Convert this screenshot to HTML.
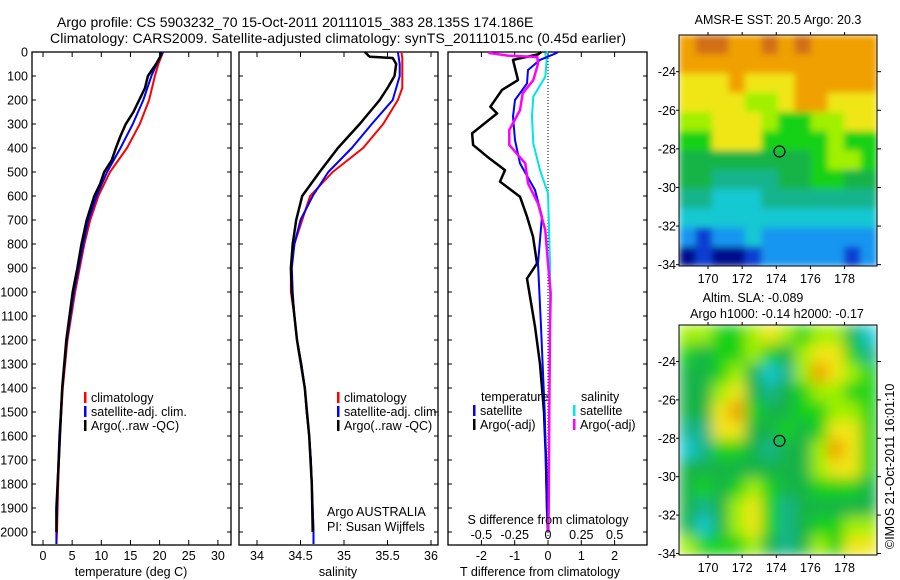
<!DOCTYPE html>
<html><head><meta charset="utf-8"><style>
body{margin:0;background:#fff}
svg{display:block;font-family:"Liberation Sans",Arial,sans-serif}
text{fill:#000}
</style></head><body>
<svg id="c" width="900" height="580" viewBox="0 0 900 580" xmlns="http://www.w3.org/2000/svg">
<defs>
<filter id="blur2" x="0" y="0" width="1" height="1"><feGaussianBlur stdDeviation="7"/></filter>
<filter id="blur1" x="0" y="0" width="1" height="1"><feGaussianBlur stdDeviation="3.5"/></filter>
<clipPath id="cm1"><rect x="679" y="35" width="198" height="231"/></clipPath>
<clipPath id="cm2"><rect x="679" y="325" width="198" height="230"/></clipPath>
</defs>
<rect width="900" height="580" fill="#fff"/>
<text x="57" y="27" font-size="14">Argo profile: CS 5903232_70 15-Oct-2011 20111015_383 28.135S 174.186E</text>
<text x="50" y="43" font-size="14" textLength="576">Climatology: CARS2009. Satellite-adjusted climatology: synTS_20111015.nc (0.45d earlier)</text>
<g id="g"></g>
</svg>
<script>
// ---------- profile data ----------
const depthT = [0,50,100,200,300,400,500,600,700,800,900,1000,1200,1400,1600,1800,2000,2050];
const tempClim = [20.6,19.8,19.2,18.2,16.6,14.4,11.5,9.5,8.1,7.1,6.3,5.5,4.2,3.4,2.9,2.6,2.4,2.3];
const tempSat = [20.6,19.5,18.6,17.2,15.4,13.3,11.0,9.2,7.8,6.9,6.1,5.3,4.1,3.3,2.8,2.5,2.3,2.3];
const depthTArgo = [0,20,50,100,150,200,250,300,350,400,450,500,550,600,700,800,900,1000,1200,1400,1600,1800,1900,2000];
const tempArgo = [20.3,20.1,19.4,18.0,17.5,16.5,15.5,14.2,13.3,12.5,11.8,10.5,9.8,8.8,7.5,6.6,5.9,5.1,4.0,3.3,2.9,2.5,2.3,2.3];

const depthS = [0,25,50,100,150,200,300,400,500,600,700,800,900,1000,1100,1200,1300,1400,1500,1600,1700,1800,1900,2000,2050];
const salClim = [35.66,35.67,35.67,35.67,35.67,35.62,35.45,35.22,34.87,34.61,34.52,34.43,34.39,34.39,34.43,34.46,34.51,34.55,34.57,34.60,34.62,34.63,34.64,34.65,34.65];
const salSat = [35.62,35.63,35.64,35.64,35.60,35.56,35.32,35.09,34.82,34.64,34.50,34.43,34.40,34.41,34.43,34.46,34.51,34.55,34.57,34.60,34.62,34.63,34.64,34.65,34.65];
const depthSArgo = [0,15,20,25,50,100,150,200,300,400,500,600,700,800,900,1000,1200,1400,1600,1800,2000];
const salArgo = [35.24,35.28,35.30,35.56,35.60,35.58,35.50,35.41,35.18,34.93,34.72,34.52,34.45,34.41,34.39,34.40,34.46,34.55,34.60,34.63,34.64];

const argoTdiffDepth = [0,10,33,117,158,228,256,339,387,436,492,540,603,686,769,881,944,1019,1144,1300,1500,1700,1900,2000];
const argoTdiff = [-0.2,-0.3,-1.05,-0.9,-1.38,-1.73,-1.53,-2.28,-2.25,-1.83,-1.29,-1.44,-0.84,-0.63,-0.45,-0.33,-0.63,-0.54,-0.39,-0.24,-0.12,-0.06,-0.03,0];
const satTdiffDepth = [0,7,33,75,131,200,269,367,464,575,686,881,1144,1500,1800,2000];
const satTdiff = [0.3,0.21,-0.24,-0.6,-0.63,-0.99,-1.05,-0.99,-0.84,-0.39,-0.18,-0.3,-0.21,-0.1,-0.05,0];
const argoSdiffDepth = [0,4,15,21,49,117,172,242,325,387,464,547,631,742,881,1006,1144,1500,1900,2000];
const argoSdiff = [-0.44,-0.44,-0.3,-0.08,-0.075,-0.11,-0.19,-0.21,-0.29,-0.29,-0.17,-0.15,-0.075,-0.02,0,0.02,0.015,0.01,0.005,0];
const satSdiffDepth = [0,7,33,103,186,269,381,492,589,881,1144,1500,2000];
const satSdiff = [0.0,-0.02,-0.01,-0.02,-0.11,-0.12,-0.11,-0.06,0,0.015,0.015,0.01,0.005];

const depthTicks = [0,100,200,300,400,500,600,700,800,900,1000,1100,1200,1300,1400,1500,1600,1700,1800,1900,2000];
const tempTicks = [0,5,10,15,20,25,30];
const salTicks = [34,34.5,35,35.5,36];
const tdTicks = [-2,-1,0,1,2];
const sdTicks = [-0.5,-0.25,0,0.25,0.5];
const sdTickLabels = ["-0.5","-0.25","0","0.25","0.5"];
const lonTicks = [170,172,174,176,178];
const latTicks = [-24,-26,-28,-30,-32,-34];

// ---------- map data (12 rows from -22.1 down, 12 cols across) ----------
const sstGrid = [
[9,10,10,9,9,10,9,10,9,9,9,9],
[9,9,9,9,9,9,9,9,9,9,9,9],
[8,8,8,9,8,8,8,9,9,9,9,9],
[8,8,8,8,7,7,8,9,9,8,8,8],
[7,7,8,8,8,7,6,6,7,7,8,8],
[6,6,8,8,8,6,6,6,6,7,6,6],
[5,5,5,5,5,5,5,5,6,7,7,6],
[5,5,4,4,4,4,5,5,6,6,5,5],
[4,4,3,3,3,4,4,4,4,4,4,4],
[3,3,3,3,3,3,3,3,3,3,3,3],
[2,1,2,2,3,2,2,2,2,2,2,2],
[0,1,0,0,1,2,2,2,2,2,1,2]];
const slaGrid = [
[7,7,6,6,7,8,7,6,7,7,5,3],
[6,5,6,6,7,6,5,7,8,8,6,4],
[5,5,6,7,5,3,4,7,9,8,7,6],
[5,5,7,8,5,4,5,6,7,7,6,6],
[5,5,8,9,6,5,5,6,6,7,7,6],
[4,4,8,8,5,5,6,5,6,8,8,6],
[3,4,6,6,5,4,5,5,7,9,8,6],
[5,5,5,5,5,5,5,5,7,8,8,6],
[5,6,5,6,7,6,5,5,6,6,6,5],
[5,4,5,7,8,6,4,5,5,5,5,5],
[5,3,5,7,8,6,4,5,6,6,7,7],
[7,6,6,6,7,5,4,5,7,6,8,8]];
const argoLon = 174.186, argoLat = -28.135;

const cmap = ["#000a8c","#0a3cd2","#1496f0","#14c8d2","#14b48c","#14b446","#14d214","#a0f000","#f0e614","#f0a000","#d26e14"];

const NS = "http://www.w3.org/2000/svg";
const G = document.getElementById('g');
function mk(tag, attrs, parent, txt){
  const e = document.createElementNS(NS, tag);
  for (const k in attrs) e.setAttribute(k, attrs[k]);
  if (txt !== undefined) e.textContent = txt;
  (parent||G).appendChild(e); return e;
}
const yD = d => 52 + d*0.24;
const xTemp = t => 43 + t*5.83;
const xSal = s => 257 + (s-34)*87;
const xTd = t => 548 + t*33.3;
const xSd = s => 548 + s*133.3;
const xLon = lo => 679 + (lo-168.3)*17.07;
const yLat1 = la => 35 + (-22.1-la)*19.3;
const yLat2 = la => 325 + (-22.1-la)*19.2;

function panel(x0, name){
  const r = mk('rect',{x:x0,y:52,width:199,height:493,fill:'none',stroke:'#000','stroke-width':1.3});
  
  
  depthTicks.forEach(d=>{
    const y=yD(d);
    mk('line',{x1:x0,y1:y,x2:x0+4,y2:y,stroke:'#000'});
    mk('line',{x1:x0+199-4,y1:y,x2:x0+199,y2:y,stroke:'#000'});
  });
}
function xticks(vals, fx){
  vals.forEach(v=>{ const x=fx(v);
    mk('line',{x1:x,y1:52,x2:x,y2:57,stroke:'#000'});
    mk('line',{x1:x,y1:540,x2:x,y2:545,stroke:'#000'});
  });
}
function line(dep, vals, fx, color, w, name){
  const pts = dep.map((d,i)=>fx(vals[i]).toFixed(1)+','+yD(d).toFixed(1)).join(' ');
  const p = mk('polyline',{points:pts,fill:'none',stroke:color,'stroke-width':w,'stroke-linejoin':'round'});
  
  
}
function txt(x,y,s,opts,name){
  const a = Object.assign({x:x,y:y,'font-size':12.5},opts||{});
  const t = mk('text',a,G,s);
  
  
  return t;
}

// Panel 1
panel(32,'temperature-panel');
xticks(tempTicks, xTemp);
depthTicks.forEach(d=>{ txt(28, yD(d)+4.5, String(d), {'text-anchor':'end'}, 'depth-tick-label'); });
tempTicks.forEach(t=>{ txt(xTemp(t), 560, String(t), {'text-anchor':'middle'}, 'temperature-tick-label'); });
txt(131, 576, 'temperature (deg C)', {'text-anchor':'middle'}, 'temperature-axis-title');
line(depthT, tempClim, xTemp, '#ff0000', 2, 'temperature-climatology-line');
line(depthT, tempSat, xTemp, '#0000ff', 2, 'temperature-satellite-line');
line(depthTArgo, tempArgo, xTemp, '#000', 2.5, 'temperature-argo-line');

// Panel 2
panel(239,'salinity-panel');
xticks(salTicks, xSal);
salTicks.forEach(s=>{ txt(xSal(s), 560, String(s), {'text-anchor':'middle'}, 'salinity-tick-label'); });
txt(338, 576, 'salinity', {'text-anchor':'middle'}, 'salinity-axis-title');
line(depthS, salClim, xSal, '#ff0000', 2, 'salinity-climatology-line');
line(depthS, salSat, xSal, '#0000ff', 2, 'salinity-satellite-line');
line(depthSArgo, salArgo, xSal, '#000', 2.5, 'salinity-argo-line');
txt(327, 516, 'Argo AUSTRALIA', {}, 'institution-label');
txt(327, 531, 'PI: Susan Wijffels', {}, 'pi-label');

function legend(x, y, color, label, name){
  const b = mk('rect',{x:x,y:y-10,width:2.5,height:11,fill:color});
  
  
  txt(x+7, y, label, {}, name+'-label');
}
[[32+52,'climatology-legend'],[239+98,'salinity-climatology-legend']].forEach(([x,n])=>{
  legend(x, 402, '#ff0000', 'climatology', n);
  legend(x, 416, '#0000ff', 'satellite-adj. clim.', n+'-sat');
  legend(x, 430, '#000', 'Argo(..raw -QC)', n+'-argo');
});

// Panel 3
panel(448,'difference-panel');
xticks(tdTicks, xTd);
const dz = mk('line',{x1:548,y1:52,x2:548,y2:545,stroke:'#000','stroke-dasharray':'1,2'});


line(satSdiffDepth, satSdiff, xSd, '#00e5e5', 2, 'salinity-satellite-diff-line');
line(argoTdiffDepth, argoTdiff, xTd, '#000', 2.5, 'temperature-argo-diff-line');
line(satTdiffDepth, satTdiff, xTd, '#0000ff', 2, 'temperature-satellite-diff-line');
line(argoSdiffDepth, argoSdiff, xSd, '#ff00ff', 2.5, 'salinity-argo-diff-line');
tdTicks.forEach(t=>{ txt(xTd(t), 560, String(t), {'text-anchor':'middle'}, 't-diff-tick-label'); });
sdTicks.forEach((s,i)=>{ txt(xSd(s), 539, sdTickLabels[i], {'text-anchor':'middle'}, 's-diff-tick-label'); });
txt(548, 524, 'S difference from climatology', {'text-anchor':'middle'}, 's-diff-axis-title');
txt(540, 576, 'T difference from climatology', {'text-anchor':'middle'}, 't-diff-axis-title');
txt(481, 401, 'temperature', {}, 'temperature-legend-heading');
legend(473, 415, '#0000ff', 'satellite', 'temp-satellite-legend');
legend(473, 429, '#000', 'Argo(-adj)', 'temp-argo-legend');
txt(581, 401, 'salinity', {}, 'salinity-legend-heading');
legend(573, 415, '#00e5e5', 'satellite', 'sal-satellite-legend');
legend(573, 429, '#ff00ff', 'Argo(-adj)', 'sal-argo-legend');

// Maps
function map(grid, y0, h, yLat, clip, filt, name){
  const g = mk('g',{'clip-path':'url(#'+clip+')'});
  
  
  const inner = mk('g',{filter:'url(#'+filt+')'}, g);
  const cw = 198/grid[0].length, ch = h/grid.length;
  grid.forEach((row,r)=>row.forEach((v,c)=>{
    const cell = mk('rect',{x:(679+c*cw).toFixed(2),y:(y0+r*ch).toFixed(2),width:(cw+0.6).toFixed(2),height:(ch+0.6).toFixed(2),fill:cmap[v]}, inner);
    
    
  }));
  const fr = mk('rect',{x:679,y:y0,width:198,height:h,fill:'none',stroke:'#000','stroke-width':1});
  
  
  const ci = mk('circle',{cx:xLon(argoLon),cy:yLat(argoLat),r:5.5,fill:'none',stroke:'#000','stroke-width':1.2});
  
  
  lonTicks.forEach(lo=>{ const x=xLon(lo);
    mk('line',{x1:x,y1:y0-3,x2:x,y2:y0,stroke:'#000'});
    mk('line',{x1:x,y1:y0+h,x2:x,y2:y0+h+3,stroke:'#000'});
    txt(x, y0+h+17, String(lo), {'text-anchor':'middle'}, 'longitude-tick-label');
  });
  latTicks.forEach(la=>{ const y=yLat(la);
    mk('line',{x1:877,y1:y,x2:881,y2:y,stroke:'#000'});
    mk('line',{x1:676,y1:y,x2:679,y2:y,stroke:'#000'});
    txt(676, y+4.5, String(la), {'text-anchor':'end'}, 'latitude-tick-label');
  });
}
map(sstGrid, 35, 231, yLat1, 'cm1', 'blur1', 'sst-map');
map(slaGrid, 325, 230, yLat2, 'cm2', 'blur2', 'sla-map');
txt(778, 24, 'AMSR-E SST: 20.5 Argo: 20.3', {'text-anchor':'middle'}, 'sst-map-title');
txt(753, 302, 'Altim. SLA: -0.089', {'text-anchor':'middle'}, 'sla-map-title');
txt(777, 318, 'Argo h1000: -0.14 h2000: -0.17', {'text-anchor':'middle'}, 'sla-map-subtitle');
txt(0, 0, '\u00a9IMOS 21-Oct-2011 16:01:10', {transform:'translate(894,549) rotate(-90)','font-size':12.5}, 'copyright-timestamp');
</script>
</body></html>
